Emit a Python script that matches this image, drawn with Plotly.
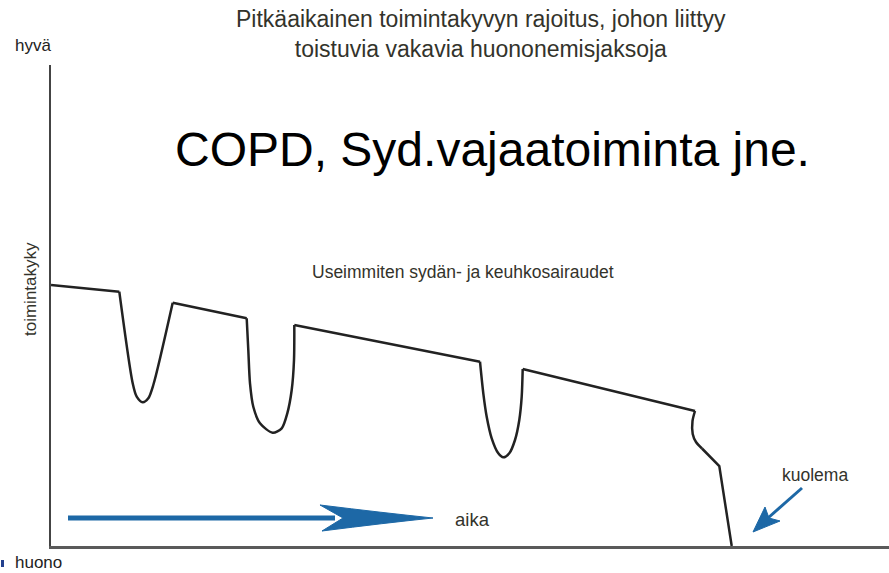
import plotly.graph_objects as go

# ---- data (time units along x, functional capacity along y) ----
start_x = [0, 68.3]
start_y = [261, 254.3]

dip1_x = [68.3, 81.7, 85.7, 91.7, 97.3, 102.3, 121.7]
dip1_y = [254.3, 162.7, 149.3, 143.7, 147.7, 161, 243.3]

plateau1_x = [121.7, 195.7]
plateau1_y = [243.3, 227.7]

dip2_x = [195.7, 197.3, 199, 202.3, 209, 221.7, 230.7, 236.3, 240.7, 243, 243.3]
dip2_y = [227.7, 196, 162.7, 139.3, 122.7, 113.3, 117.7, 132.7, 156, 186, 221]

plateau2_x = [243.3, 429]
plateau2_y = [221, 184.3]

dip3_x = [429, 432.3, 435.7, 440.7, 447.3, 452.3, 458.3, 464, 468.3, 470.7, 471.7]
dip3_y = [184.3, 152.7, 129.3, 107.7, 92.7, 88.7, 92.7, 106, 126, 149.3, 177]

plateau3_x = [471.7, 644]
plateau3_y = [177, 135]

final_curve_x = [644, 641.5, 641.7, 645, 651]
final_curve_y = [135, 125, 112, 104, 97.5]

final_drop_x = [651, 668.3, 680.7]
final_drop_y = [97.5, 80, 0]

X_RANGE = [0, 838]
Y_RANGE = [0, 481]

# ---- layout constants ----
W, H = 889, 573
ML, MR, MT, MB = 51, 0, 65, 27
FONT = "Liberation Sans, Arial, sans-serif"
TXT = "#33332b"
BLUE = "#1d68a6"
LINE = "#222222"


def px(x):
    return (x - ML) / (W - ML - MR)


def py(y):
    return (H - MB - y) / (H - MT - MB)


fig = go.Figure()

segments = [
    (start_x, start_y, "linear"),
    (dip1_x, dip1_y, "spline"),
    (plateau1_x, plateau1_y, "linear"),
    (dip2_x, dip2_y, "spline"),
    (plateau2_x, plateau2_y, "linear"),
    (dip3_x, dip3_y, "spline"),
    (plateau3_x, plateau3_y, "linear"),
    (final_curve_x, final_curve_y, "spline"),
    (final_drop_x, final_drop_y, "linear"),
]
for sx, sy, shp in segments:
    fig.add_trace(go.Scatter(
        x=sx, y=sy, mode="lines",
        line=dict(color=LINE, width=2.5, shape=shp, smoothing=0.8),
        hoverinfo="skip", showlegend=False, cliponaxis=False,
    ))


def P(x, y):
    return f"{px(x):.5f},{py(y):.5f}"


shapes = []
# time arrow shaft
shapes.append(dict(type="line", xref="paper", yref="paper",
                   x0=px(68), y0=py(518), x1=px(335), y1=py(518),
                   line=dict(color=BLUE, width=5)))
# time arrow head
shapes.append(dict(type="path", xref="paper", yref="paper",
                   path=(f"M {P(433,518)} Q {P(385,513)} {P(320,505)} "
                         f"L {P(343,518)} L {P(322,531)} Q {P(385,523)} {P(433,518)} Z"),
                   fillcolor=BLUE, line=dict(color=BLUE, width=1)))
# death arrow shaft
shapes.append(dict(type="line", xref="paper", yref="paper",
                   x0=px(802), y0=py(488), x1=px(768), y1=py(518),
                   line=dict(color=BLUE, width=3)))
# death arrow head
shapes.append(dict(type="path", xref="paper", yref="paper",
                   path=f"M {P(753,532)} L {P(765,507)} L {P(769,518)} L {P(780,521)} Z",
                   fillcolor=BLUE, line=dict(color=BLUE, width=1)))
# small mark bottom-left
shapes.append(dict(type="rect", xref="paper", yref="paper",
                   x0=px(1), y0=py(567), x1=px(4), y1=py(560),
                   fillcolor="#23408e", line=dict(width=0)))

annotations = [
    dict(text="Pitkäaikainen toimintakyvyn rajoitus, johon liittyy<br>toistuvia vakavia huononemisjaksoja",
         x=px(481), y=py(34), font=dict(size=23, color=TXT)),
    dict(text="COPD, Syd.vajaatoiminta jne.", x=px(492), y=py(150),
         font=dict(size=48, color="#000000")),
    dict(text="hyvä", x=px(33), y=py(45), font=dict(size=17, color="#222")),
    dict(text="huono", x=px(38), y=py(562), font=dict(size=17, color="#222")),
    dict(text="toimintakyky", x=px(30), y=py(289), textangle=-90,
         font=dict(size=17, color=TXT)),
    dict(text="Useimmiten sydän- ja keuhkosairaudet", x=px(463), y=py(272),
         font=dict(size=17.5, color=TXT)),
    dict(text="aika", x=px(472), y=py(519), font=dict(size=18.5, color=TXT)),
    dict(text="kuolema", x=px(815), y=py(475), font=dict(size=17.5, color=TXT)),
]
for a in annotations:
    a.update(xref="paper", yref="paper", showarrow=False,
             xanchor="center", yanchor="middle")
    a["font"]["family"] = FONT

fig.update_layout(
    width=W, height=H,
    margin=dict(l=ML, r=MR, t=MT, b=MB, pad=0),
    paper_bgcolor="white", plot_bgcolor="white",
    shapes=shapes, annotations=annotations,
    font=dict(family=FONT),
    xaxis=dict(range=X_RANGE, showline=True, linecolor="#5a5a5a", linewidth=2.5,
               showgrid=False, zeroline=False, showticklabels=False, ticks=""),
    yaxis=dict(range=Y_RANGE, showline=True, linecolor="#444444", linewidth=2,
               showgrid=False, zeroline=False, showticklabels=False, ticks=""),
)

fig.write_html(
    "out.html",
    config={"displayModeBar": False},
    post_script="document.body.style.margin='0';document.body.style.overflow='hidden';",
)
